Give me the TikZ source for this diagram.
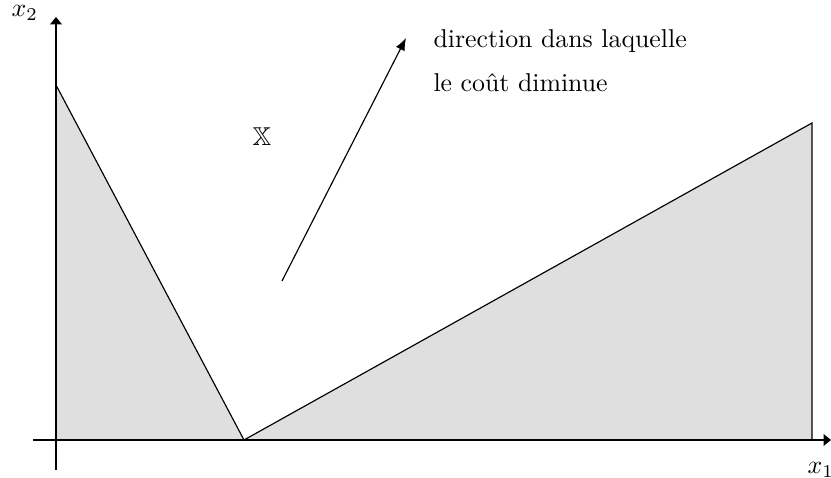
\documentclass[tikz,border=0pt]{standalone}
\usepackage{amssymb}
\usetikzlibrary{arrows.meta}
\begin{document}
\begin{tikzpicture}[x=0.3876pt,y=-0.3876pt,
  region/.style={fill=gray!25},
  edge/.style={draw=black,line width=0.45pt},
  axis/.style={draw=black,line width=0.5pt,-{Triangle[length=2.9pt,width=4.6pt]}},
  dirarrow/.style={draw=black,line width=0.45pt,-{Latex[length=4.8pt,width=3.8pt]}},
  lbl/.style={inner sep=0pt,anchor=base west}]
\useasboundingbox (0,0) rectangle (831,478);
\coordinate (O) at (56,440);
\coordinate (A) at (56,85);
\coordinate (B) at (244,440);
\coordinate (C) at (812,123);
\coordinate (D) at (812,440);
\fill[region] (A) -- (B) -- (O) -- cycle;
\fill[region] (B) -- (C) -- (D) -- cycle;
\draw[edge] (A) -- (B) -- (C) -- (D);
\coordinate (xs) at (33,440);
\coordinate (xe) at (831,440);
\coordinate (ys) at (56,470);
\coordinate (ye) at (56,17);
\draw[axis] (xs) -- (xe);
\draw[axis] (ys) -- (ye);
\node[lbl] (lx2) at (11,17) {$x_2$};
\node[lbl] (lx1) at (807,474) {$x_1$};
\coordinate (ds) at (282,281);
\coordinate (de) at (406,38);
\draw[dirarrow] (ds) -- (de);
\node[lbl] (t1) at (433,48) {direction dans laquelle};
\node[lbl] (t2) at (433,92) {le coût diminue};
\node (X) at (262,137) {$\mathbb{X}$};
\end{tikzpicture}
\end{document}
